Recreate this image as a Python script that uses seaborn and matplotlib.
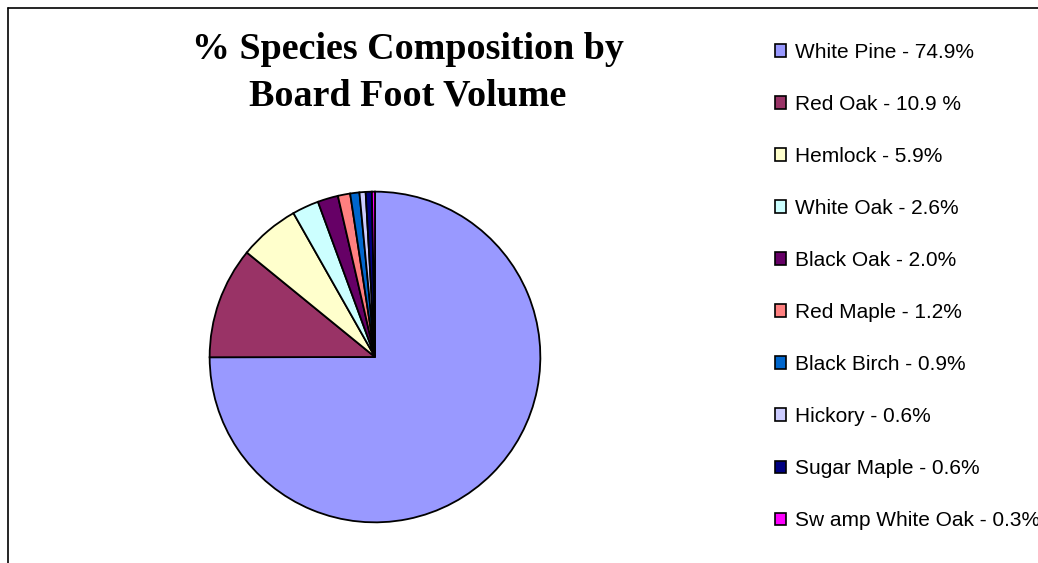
import seaborn as sns
import matplotlib.pyplot as plt
from matplotlib.patches import Patch
from matplotlib.lines import Line2D

sns.set_theme(style="white")
plt.rcParams['font.family'] = ['Liberation Sans', 'DejaVu Sans']
plt.rcParams['text.color'] = 'black'

species = ["White Pine - 74.9%", "Red Oak - 10.9 %", "Hemlock - 5.9%", "White Oak - 2.6%",
           "Black Oak - 2.0%", "Red Maple - 1.2%", "Black Birch - 0.9%", "Hickory - 0.6%",
           "Sugar Maple - 0.6%", "Sw amp White Oak - 0.3%"]
percent = [74.9, 10.9, 5.9, 2.6, 2.0, 1.2, 0.9, 0.6, 0.6, 0.3]
colors = sns.color_palette(["#9999FF", "#993366", "#FFFFCC", "#CCFFFF", "#660066",
                            "#FF8080", "#0066CC", "#CCCCFF", "#000080", "#FF00FF"])

W, H = 1038, 563
fig = plt.figure(figsize=(W / 100, H / 100), dpi=100)

# pie axes: centre (375, 357), radius 167 px
cx, cy, r = 375, 357, 167
ax = fig.add_axes([(cx - r) / W, (H - cy - r) / H, 2 * r / W, 2 * r / H])
ax.pie(percent, colors=colors, startangle=90, counterclock=False, radius=1,
       wedgeprops=dict(edgecolor="black", linewidth=1.3))
ax.set_xlim(-1.01, 1.01)
ax.set_ylim(-1.01, 1.01)
ax.set_aspect("equal")
ax.axis("off")

fig.text(408 / W, 1 - 73 / H, "% Species Composition by\nBoard Foot Volume",
         ha="center", va="center", fontsize=27.4, fontweight="bold", color="black",
         family=["Liberation Serif", "DejaVu Serif"], linespacing=1.44)

handles = [Patch(facecolor=c, edgecolor="black", linewidth=1.2) for c in colors]
leg = fig.legend(handles, species, loc="upper left", bbox_to_anchor=(775 / W, 1 - 43 / H),
                 frameon=False, fontsize=15, handlelength=0.55, handleheight=0.55,
                 handletextpad=0.4, labelspacing=1.585, borderaxespad=0, borderpad=0)
for t in leg.get_texts():
    t.set_color("black")

# chart border (top and left visible)
fig.add_artist(Line2D([8 / W, 1], [1 - 8 / H, 1 - 8 / H], transform=fig.transFigure,
                      color="black", linewidth=1.2))
fig.add_artist(Line2D([8 / W, 8 / W], [0, 1 - 8 / H], transform=fig.transFigure,
                      color="black", linewidth=1.2))

fig.savefig("out.png", dpi=100)
